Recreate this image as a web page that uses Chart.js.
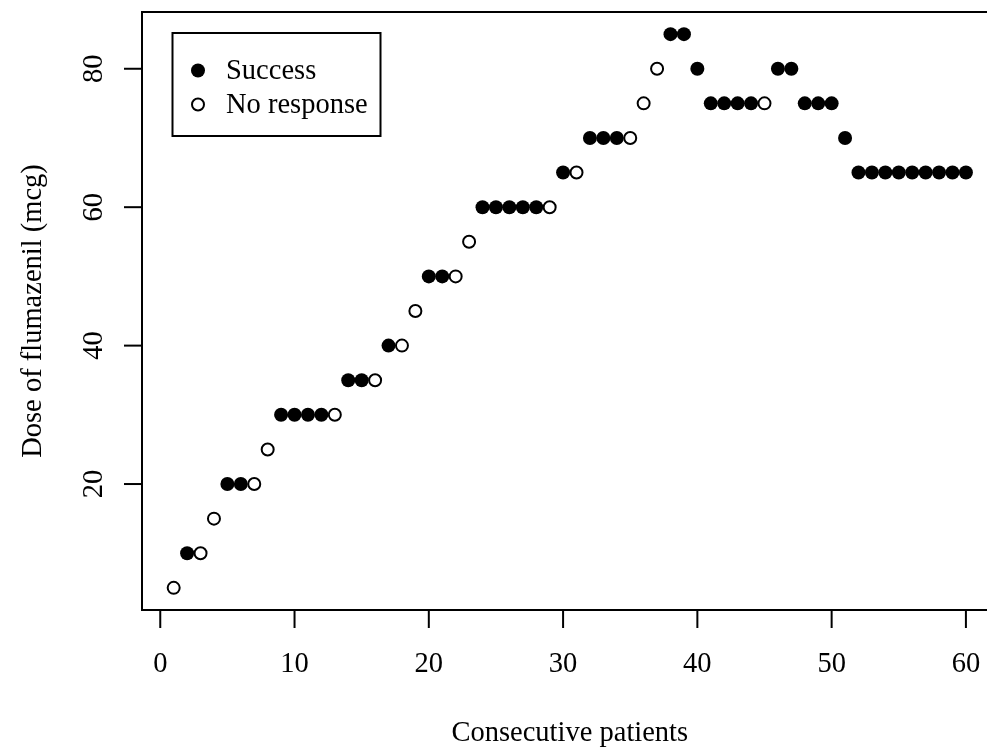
<!DOCTYPE html>
<html>
<head>
<meta charset="utf-8">
<script src="https://cdn.jsdelivr.net/npm/chart.js@4/dist/chart.umd.min.js"></script>
<style>
  html, body { margin: 0; padding: 0; background: #fff; overflow: hidden; }
  #wrap { width: 987px; height: 747px; overflow: hidden; }
</style>
</head>
<body>
<div id="wrap"><canvas id="myChart" width="1000" height="747"></canvas></div>
<script>
// Dose given to each consecutive patient (mcg)
const doses = [5, 10, 10, 15, 20, 20, 20, 25, 30, 30, 30, 30, 30, 35, 35, 35, 40, 40, 45, 50,
  50, 50, 55, 60, 60, 60, 60, 60, 60, 65, 65, 70, 70, 70, 70, 75, 80, 85, 85, 80,
  75, 75, 75, 75, 75, 80, 80, 75, 75, 75, 70, 65, 65, 65, 65, 65, 65, 65, 65, 65];
// 1 = success, 0 = no response
const responses = [0, 1, 0, 0, 1, 1, 0, 0, 1, 1, 1, 1, 0, 1, 1, 0, 1, 0, 0, 1,
  1, 0, 0, 1, 1, 1, 1, 1, 0, 1, 0, 1, 1, 1, 0, 0, 0, 1, 1, 1,
  1, 1, 1, 1, 0, 1, 1, 1, 1, 1, 1, 1, 1, 1, 1, 1, 1, 1, 1, 1];
const xTicks = [0, 10, 20, 30, 40, 50, 60];
const yTicks = [20, 40, 60, 80];
const legendLabels = ['Success', 'No response'];

const FONT = '28.5px "Liberation Serif", "Times New Roman", serif';

const toPoints = (flag) => doses
  .map((d, i) => ({ x: i + 1, y: d, r: responses[i] }))
  .filter(p => p.r === flag);

// R style box, axes, labels and legend
const baseGraphics = {
  id: 'baseGraphics',
  afterDraw(chart) {
    const ctx = chart.ctx;
    const a = chart.chartArea;
    const xs = chart.scales.x, ys = chart.scales.y;
    ctx.save();
    ctx.strokeStyle = '#000';
    ctx.fillStyle = '#000';
    ctx.lineWidth = 2;
    ctx.strokeRect(a.left, a.top, a.right - a.left, a.bottom - a.top);

    ctx.font = FONT;
    // x axis
    ctx.textAlign = 'center';
    ctx.textBaseline = 'alphabetic';
    xTicks.forEach(t => {
      const px = xs.getPixelForValue(t);
      ctx.beginPath();
      ctx.moveTo(px, a.bottom);
      ctx.lineTo(px, a.bottom + 18);
      ctx.stroke();
      ctx.fillText(String(t), px, 672);
    });
    ctx.fillText('Consecutive patients', (a.left + a.right) / 2, 741);

    // y axis
    yTicks.forEach(t => {
      const py = ys.getPixelForValue(t);
      ctx.beginPath();
      ctx.moveTo(a.left, py);
      ctx.lineTo(a.left - 18, py);
      ctx.stroke();
      ctx.save();
      ctx.translate(102, py);
      ctx.rotate(-Math.PI / 2);
      ctx.fillText(String(t), 0, 0);
      ctx.restore();
    });
    ctx.save();
    ctx.translate(41, (a.top + a.bottom) / 2);
    ctx.rotate(-Math.PI / 2);
    ctx.fillText('Dose of flumazenil (mcg)', 0, 0);
    ctx.restore();

    // legend
    ctx.strokeRect(172.5, 33, 208, 103);
    const rows = [70.5, 104.5];
    ctx.textAlign = 'left';
    ctx.textBaseline = 'middle';
    rows.forEach((ry, i) => {
      ctx.beginPath();
      ctx.arc(198, ry, i === 0 ? 7 : 6, 0, Math.PI * 2);
      if (i === 0) ctx.fill(); else ctx.stroke();
      ctx.fillText(legendLabels[i], 226, ry + 1);
    });
    ctx.restore();
  }
};

new Chart(document.getElementById('myChart').getContext('2d'), {
  type: 'scatter',
  data: {
    datasets: [{
      label: legendLabels[0],
      data: toPoints(1),
      pointRadius: 7,
      pointHoverRadius: 7,
      pointBorderWidth: 0,
      backgroundColor: '#000',
      borderColor: '#000',
      order: 1
    }, {
      label: legendLabels[1],
      data: toPoints(0),
      pointRadius: 6,
      pointHoverRadius: 6,
      pointBorderWidth: 2,
      backgroundColor: 'rgba(0,0,0,0)',
      borderColor: '#000',
      order: 0
    }]
  },
  options: {
    responsive: false,
    animation: false,
    devicePixelRatio: 1,
    layout: { autoPadding: false, padding: { left: 142, top: 12, right: 2.4, bottom: 137 } },
    plugins: { legend: { display: false }, tooltip: { enabled: false } },
    scales: {
      x: { type: 'linear', min: -1.36, max: 62.36, display: false },
      y: { type: 'linear', min: 1.8, max: 88.2, display: false }
    }
  },
  plugins: [baseGraphics]
});
</script>
</body>
</html>
